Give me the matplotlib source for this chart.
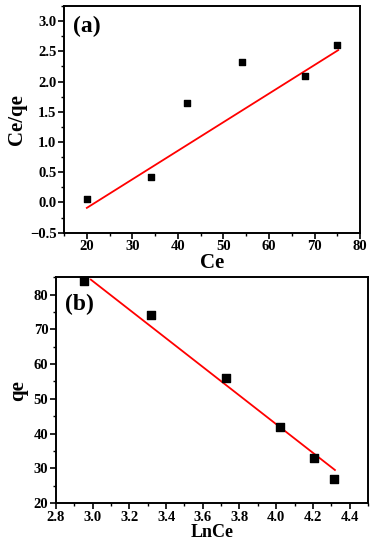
import matplotlib
matplotlib.use("Agg")
import matplotlib.pyplot as plt
from matplotlib.ticker import MultipleLocator

# Panel (a) data
ce_a = [20, 34, 42, 54, 68, 75]
ceqe_a = [0.05, 0.42, 1.65, 2.32, 2.10, 2.60]
fit_a_x = [20, 75.2]
fit_a_y = [-0.09, 2.52]

# Panel (b) data
lnce_b = [2.95, 3.32, 3.725, 4.02, 4.205, 4.315]
qe_b = [84.0, 74.0, 56.0, 42.0, 33.0, 27.0]
fit_b_x = [2.99, 4.32]
fit_b_y = [84.3, 29.5]

plt.rcParams['font.family'] = ['Liberation Serif', 'DejaVu Serif']
plt.rcParams['font.weight'] = 'bold'

fig = plt.figure(figsize=(3.77, 5.5), dpi=100)
fig.patch.set_facecolor('white')

axa = fig.add_axes([0.170, 0.577, 0.785, 0.412])
axb = fig.add_axes([0.1485, 0.0855, 0.8275, 0.4105])

def style(ax):
    for s in ax.spines.values():
        s.set_linewidth(1.4)
    ax.tick_params(which='major', direction='out', length=4, width=1.2, labelsize=10.5, pad=1.5)
    ax.tick_params(which='minor', direction='out', length=2.5, width=1.0)
    for lab in ax.get_xticklabels() + ax.get_yticklabels():
        lab.set_fontweight('bold')

# (a)
axa.plot(fit_a_x, fit_a_y, color='red', lw=1.3, zorder=2)
axa.scatter(ce_a, ceqe_a, marker='s', s=18, color='black', zorder=3)
axa.set_xlim(15, 80)
axa.set_ylim(-0.5, 3.25)
axa.xaxis.set_major_locator(MultipleLocator(10))
axa.xaxis.set_minor_locator(MultipleLocator(5))
axa.yaxis.set_major_locator(MultipleLocator(0.5))
axa.yaxis.set_minor_locator(MultipleLocator(0.25))
style(axa)
axa.set_xlabel('Ce', fontsize=15, fontweight='bold', labelpad=0)
axa.set_ylabel('Ce/qe', fontsize=15, fontweight='bold', labelpad=2)
axa.text(0.03, 0.955, '(a)', transform=axa.transAxes, fontsize=17,
         fontweight='bold', va='top', ha='left')

# (b)
axb.plot(fit_b_x, fit_b_y, color='red', lw=1.3, zorder=2)
axb.scatter(lnce_b, qe_b, marker='s', s=30, color='black', zorder=3, clip_on=False)
axb.set_xlim(2.8, 4.5)
axb.set_ylim(20, 85)
axb.xaxis.set_major_locator(MultipleLocator(0.2))
axb.xaxis.set_minor_locator(MultipleLocator(0.1))
axb.yaxis.set_major_locator(MultipleLocator(10))
axb.yaxis.set_minor_locator(MultipleLocator(5))
style(axb)
axb.set_xlabel('LnCe', fontsize=13, fontweight='bold', labelpad=0)
axb.set_ylabel('qe', fontsize=15, fontweight='bold', labelpad=4)
axb.text(0.03, 0.925, '(b)', transform=axb.transAxes, fontsize=17,
         fontweight='bold', va='top', ha='left')

fig.savefig('out.png', dpi=100, facecolor='white')
